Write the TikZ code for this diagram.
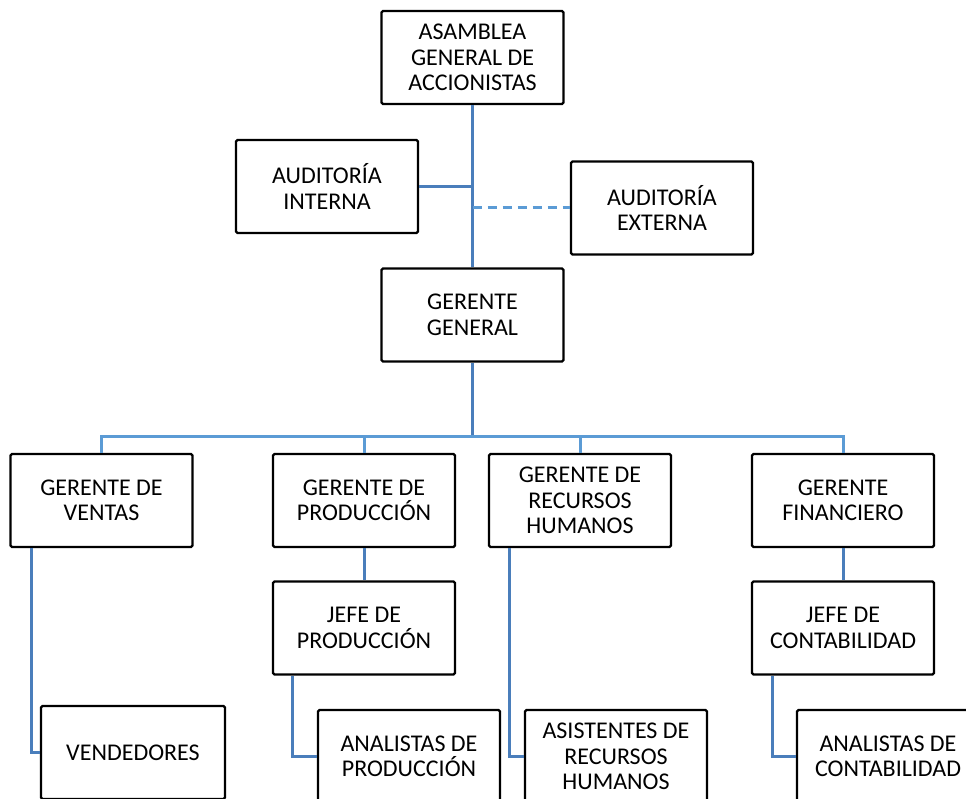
\documentclass[tikz,border=0pt]{standalone}
\usepackage{fontspec}
\setmainfont{Carlito}
\usepackage{tikz}
\definecolor{linea}{RGB}{74,126,187}
\definecolor{lineaclara}{RGB}{91,155,213}

\begin{document}
\begin{tikzpicture}[x=1pt, y=-1pt,
	caja/.style={draw, line width=2.2pt, rounded corners=1.5pt, minimum width=182pt, minimum height=93pt, align=center, inner sep=0pt, font=\fontsize{24}{25.5}\selectfont},
	enlace/.style={draw=linea, line width=3pt}]
			\useasboundingbox (0,0) rectangle (966,799);
			\clip (0,0) rectangle (966,799);
			\node[caja] (A) at (472.5,57.5) {ASAMBLEA\\GENERAL DE\\ACCIONISTAS};
			\node[caja] (AI) at (327,186.5) {AUDITORÍA\\INTERNA};
			\node[caja] (AE) at (662,208) {AUDITORÍA\\EXTERNA};
			\node[caja] (G) at (472.5,315) {GERENTE\\GENERAL};
			\node[caja] (V) at (101.5,500.5) {GERENTE DE\\VENTAS};
			\node[caja] (P) at (364,500.5) {GERENTE DE\\PRODUCCIÓN};
			\node[caja] (R) at (580,500.5) {GERENTE DE\\RECURSOS\\HUMANOS};
			\node[caja] (F) at (843,500.5) {GERENTE\\FINANCIERO};
			\node[caja] (JP) at (364,628) {JEFE DE\\PRODUCCIÓN};
			\node[caja] (JC) at (843,628) {JEFE DE\\CONTABILIDAD};
			\node[caja, minimum width=184pt] (VE) at (133,752.5) {VENDEDORES};
			\node[caja] (AP) at (409,756.5) {ANALISTAS DE\\PRODUCCIÓN};
			\node[caja] (AR) at (616,756.5) {ASISTENTES DE\\RECURSOS\\HUMANOS};
			\node[caja] (AC) at (888,756.5) {ANALISTAS DE\\CONTABILIDAD};
			\coordinate (B) at (472.5,436);
			\draw[enlace] (A.south) -- (G.north);
			\draw[enlace] (AI.east) -- (AI.east -| A.south);
			\draw[enlace, draw=lineaclara, dash pattern=on 9pt off 6pt] (AE.west -| A.south) -- (AE.west);
			\draw[enlace] (G.south) -- (B);
			\draw[enlace, draw=lineaclara] (V.north) |- (B) -| (F.north);
			\draw[enlace, draw=lineaclara] (P.north) -- (P.north |- B);
			\draw[enlace, draw=lineaclara] (R.north) -- (R.north |- B);
			\draw[enlace] (P.south) -- (JP.north);
			\draw[enlace] (F.south) -- (JC.north);
			\draw[enlace] ([xshift=-70.5pt]V.south) |- (VE.west);
			\draw[enlace] ([xshift=-72pt]JP.south) |- (AP.west);
			\draw[enlace] ([xshift=-71pt]R.south) |- (AR.west);
			\draw[enlace] ([xshift=-71pt]JC.south) |- (AC.west);
\end{tikzpicture}
\end{document}
